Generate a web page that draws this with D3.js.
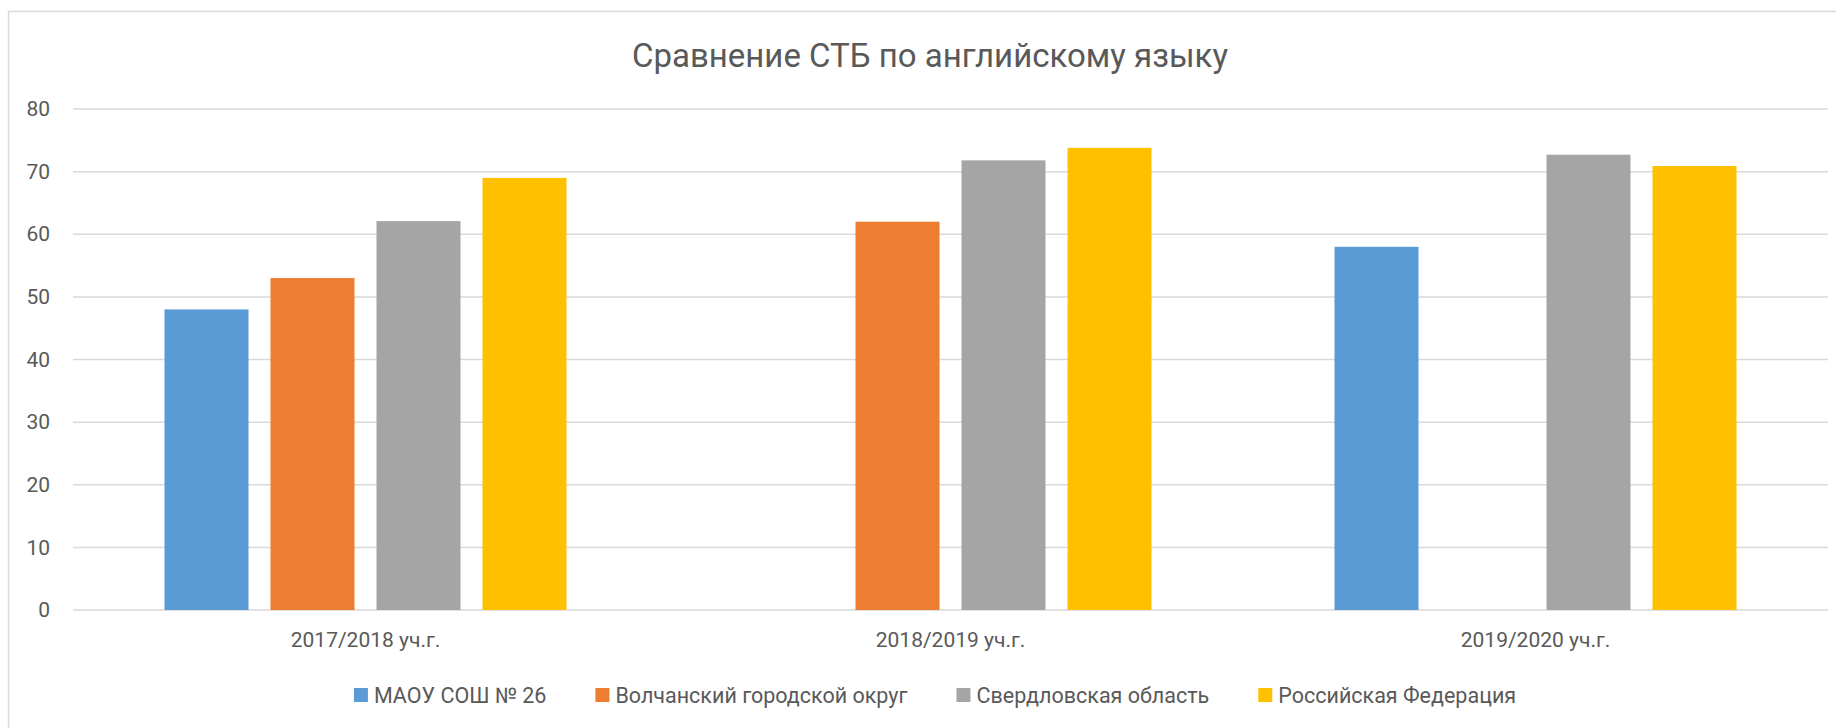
<!DOCTYPE html>
<html>
<head>
<meta charset="utf-8">
<script src="https://cdn.jsdelivr.net/npm/d3@7"></script>
<style>
  html, body { margin: 0; padding: 0; background: #fff; }
  svg text { font-family: Roboto, "Noto Sans", sans-serif; fill: #595959; }
</style>
</head>
<body>
<div id="chart"></div>
<script>
var title = "Сравнение СТБ по английскому языку";
var categories = ["2017/2018 уч.г.", "2018/2019 уч.г.", "2019/2020 уч.г."];
var seriesNames = ["МАОУ СОШ № 26", "Волчанский городской округ", "Свердловская область", "Российская Федерация"];
var seriesColors = ["#5B9BD5", "#ED7D31", "#A5A5A5", "#FFC000"];
// values per series, in category order (null = no value)
var school   = [48, null, 58];
var district = [53, 62, null];
var region   = [62.1, 71.8, 72.7];
var russia   = [69, 73.8, 70.9];
var yTicks = [0, 10, 20, 30, 40, 50, 60, 70, 80];

var seriesValues = [school, district, region, russia];

var width = 1836, height = 728,
    plotLeft = 73, plotRight = 1828,
    plotTop = 109, plotBottom = 610;

var svg = d3.select("#chart").append("svg")
  .attr("width", width)
  .attr("height", height);

// chart area border
svg.append("rect")
  .attr("x", 8.5).attr("y", 11.5)
  .attr("width", width + 20).attr("height", height + 20)
  .attr("fill", "#fff")
  .attr("stroke", "#d9d9d9")
  .attr("stroke-width", 1.5);

svg.append("text")
  .attr("x", 930).attr("y", 55)
  .attr("dy", ".35em")
  .attr("text-anchor", "middle")
  .style("font-size", "33px")
  .text(title);

var x = d3.scaleBand().domain(categories).range([plotLeft, plotRight]);
var barW = 84, gap = 22, groupW = seriesNames.length * barW + (seriesNames.length - 1) * gap;
var xs = d3.scaleBand()
  .domain(seriesNames)
  .range([(x.bandwidth() - groupW) / 2, (x.bandwidth() + groupW) / 2])
  .paddingInner(gap / (barW + gap));
var y = d3.scaleLinear().domain([0, 80]).range([plotBottom, plotTop]);

// gridlines
svg.append("g")
  .selectAll("line")
  .data(yTicks)
  .enter().append("line")
  .attr("x1", plotLeft).attr("x2", plotRight)
  .attr("y1", function(d){ return y(d); })
  .attr("y2", function(d){ return y(d); })
  .attr("stroke", "#d9d9d9")
  .attr("stroke-width", 1.5);

// y axis labels
var yAxis = svg.append("g")
  .attr("transform", "translate(" + plotLeft + ",0)")
  .call(d3.axisLeft(y).tickValues(yTicks).tickSize(0).tickPadding(23));
yAxis.select(".domain").remove();
yAxis.selectAll("text").style("font-size", "21px").attr("fill", "#595959");

// bars
var rows = [];
seriesValues.forEach(function(vals, s){
  vals.forEach(function(v, c){
    if (v != null) rows.push({series: seriesNames[s], color: seriesColors[s], cat: categories[c], value: v});
  });
});

svg.append("g")
  .selectAll("rect")
  .data(rows)
  .enter().append("rect")
  .attr("x", function(d){ return x(d.cat) + xs(d.series); })
  .attr("width", xs.bandwidth())
  .attr("y", function(d){ return y(d.value); })
  .attr("height", function(d){ return y(0) - y(d.value); })
  .attr("fill", function(d){ return d.color; });

// category labels
var xAxis = svg.append("g")
  .attr("transform", "translate(0," + plotBottom + ")")
  .call(d3.axisBottom(x).tickSize(0).tickPadding(22));
xAxis.select(".domain").remove();
xAxis.selectAll("text").style("font-size", "21px").attr("fill", "#595959");

// legend
var legend = svg.append("g");
var items = legend.selectAll("g")
  .data(seriesNames)
  .enter().append("g");
items.append("rect")
  .attr("width", 14).attr("height", 14)
  .attr("y", -7)
  .attr("fill", function(d, i){ return seriesColors[i]; });
items.append("text")
  .attr("x", 20)
  .attr("dy", ".35em")
  .style("font-size", "21.5px")
  .text(function(d){ return d; });

var pos = 0;
items.each(function(){
  var g = d3.select(this);
  g.attr("transform", "translate(" + pos + ",0)");
  pos += 20 + g.select("text").node().getComputedTextLength() + 49;
});
var legendW = pos - 49;
legend.attr("transform", "translate(" + (935 - legendW / 2) + ",695)");
</script>
</body>
</html>
